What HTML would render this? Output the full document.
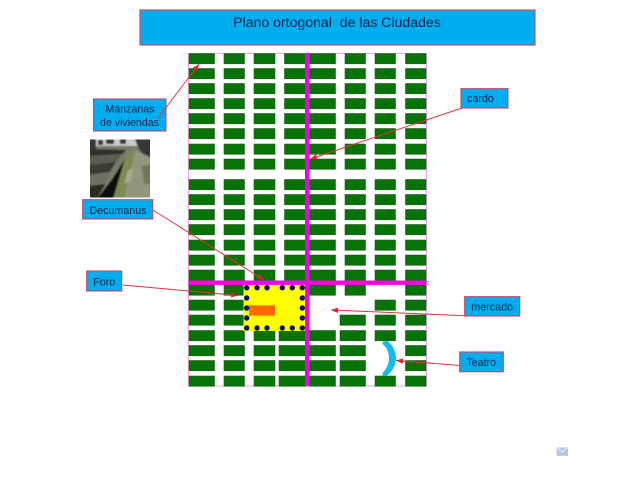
<!DOCTYPE html>
<html>
<head>
<meta charset="utf-8">
<style>
html,body{margin:0;padding:0;background:#fff;width:640px;height:480px;overflow:hidden}
svg{display:block}
text{font-family:"Liberation Sans",Arial,sans-serif;fill:#0a2550;text-anchor:middle}
.b{fill:#00aeef;stroke:#c4506c;stroke-width:1.2}
.g{fill:#067306;stroke:#2c5c2c;stroke-width:.6}
.a{fill:none;stroke:#e4343c;stroke-width:1;marker-end:url(#h)}
</style>
</head>
<body>
<svg width="640" height="480" viewBox="0 0 640 480" xmlns="http://www.w3.org/2000/svg">
<defs>
<marker id="h" markerUnits="userSpaceOnUse" markerWidth="8" markerHeight="6" refX="7" refY="3" orient="auto">
<path d="M0,0.3 L7,3 L0,5.7 z" fill="#e8202c"/>
</marker>
<filter id="bl" x="-5%" y="-5%" width="110%" height="110%"><feGaussianBlur stdDeviation="0.8"/></filter>
<clipPath id="ph"><rect x="90" y="139.5" width="60" height="58"/></clipPath>
<g id="r">
<rect class="g" x="189" y="0" width="25.5" height="10.3"/>
<rect class="g" x="224" y="0" width="20.5" height="10.3"/>
<rect class="g" x="254" y="0" width="21" height="10.3"/>
<rect class="g" x="284.5" y="0" width="21" height="10.3"/>
<rect class="g" x="309" y="0" width="26.5" height="10.3"/>
<rect class="g" x="345" y="0" width="20.5" height="10.3"/>
<rect class="g" x="375" y="0" width="20.5" height="10.3"/>
<rect class="g" x="405.5" y="0" width="20.5" height="10.3"/>
</g>
<g id="c1"><rect class="g" x="189" y="0" width="25.5" height="10.3"/><rect class="g" x="224" y="0" width="20.5" height="10.3"/></g>
<g id="c3"><rect class="g" x="254" y="0" width="21" height="10.3"/><rect class="g" x="279" y="0" width="27" height="10.3"/></g>
<g id="c5"><rect class="g" x="309" y="0" width="26.5" height="10.3"/></g>
<g id="c6"><rect class="g" x="345" y="0" width="20.5" height="10.3"/></g>
<g id="c6w"><rect class="g" x="340" y="0" width="25.5" height="10.3"/></g>
<g id="c7"><rect class="g" x="375" y="0" width="20.5" height="10.3"/></g>
<g id="c8"><rect class="g" x="405.5" y="0" width="20.5" height="10.3"/></g>
</defs>

<rect width="640" height="480" fill="#fff"/>

<!-- title -->
<rect class="b" x="140" y="10" width="395" height="35"/>
<text x="337" y="27" font-size="14.1">Plano ortogonal&#160; de las Ciudades</text>

<!-- city outline -->
<rect x="188.5" y="53.5" width="238" height="332.5" fill="none" stroke="#f6a0ee" stroke-width="1"/>

<!-- upper blocks -->
<use href="#r" y="53.5"/><use href="#r" y="68.5"/><use href="#r" y="83.5"/><use href="#r" y="98.5"/>
<use href="#r" y="113.5"/><use href="#r" y="128.5"/><use href="#r" y="144"/><use href="#r" y="159"/>
<use href="#r" y="179.5"/><use href="#r" y="194.5"/><use href="#r" y="209.5"/><use href="#r" y="224.5"/>
<use href="#r" y="240"/><use href="#r" y="255"/><use href="#r" y="270"/>

<!-- lower blocks -->
<use href="#c1" y="285"/><use href="#c5" y="285"/><use href="#c6" y="285"/><use href="#c8" y="285"/>
<use href="#c1" y="300"/><use href="#c7" y="300"/><use href="#c8" y="300"/>
<use href="#c1" y="315"/><use href="#c6w" y="315"/><use href="#c7" y="315"/><use href="#c8" y="315"/>
<use href="#c1" y="330.5"/><use href="#c3" y="330.5"/><use href="#c5" y="330.5"/><use href="#c6w" y="330.5"/><use href="#c7" y="330.5"/><use href="#c8" y="330.5"/>
<use href="#c1" y="345.5"/><use href="#c3" y="345.5"/><use href="#c5" y="345.5"/><use href="#c6w" y="345.5"/><use href="#c8" y="345.5"/>
<use href="#c1" y="360.5"/><use href="#c3" y="360.5"/><use href="#c5" y="360.5"/><use href="#c6w" y="360.5"/><use href="#c8" y="360.5"/>
<use href="#c1" y="376"/><use href="#c3" y="376"/><use href="#c5" y="376"/><use href="#c6w" y="376"/><use href="#c7" y="376"/><use href="#c8" y="376"/>

<!-- forum -->
<rect x="243.5" y="285" width="62.5" height="46" fill="#ffff00"/>
<rect x="249" y="305.3" width="26" height="10.4" fill="#ff6a00"/>

<!-- main streets -->
<rect x="305" y="53" width="4.6" height="333" fill="#f000e8"/>
<rect x="188.5" y="280.5" width="238" height="4.4" fill="#f800e8"/>

<!-- forum columns -->
<g fill="#10106e">
<circle cx="246.7" cy="287.7" r="2.7"/><circle cx="257" cy="287.7" r="2.7"/><circle cx="267" cy="287.7" r="2.7"/>
<circle cx="282.3" cy="287.7" r="2.7"/><circle cx="292.3" cy="287.7" r="2.7"/><circle cx="302.3" cy="287.7" r="2.7"/>
<circle cx="246.7" cy="298" r="2.7"/><circle cx="302.3" cy="298" r="2.7"/>
<circle cx="246.7" cy="308" r="2.7"/><circle cx="302.3" cy="308" r="2.7"/>
<circle cx="246.7" cy="318" r="2.7"/><circle cx="302.3" cy="318" r="2.7"/>
<circle cx="246.7" cy="328" r="2.7"/><circle cx="257" cy="328" r="2.7"/><circle cx="267" cy="328" r="2.7"/>
<circle cx="282.3" cy="328" r="2.7"/><circle cx="292.3" cy="328" r="2.7"/><circle cx="302.3" cy="328" r="2.7"/>
</g>

<!-- theatre -->
<path d="M382.5,342 L387,340.5 C393,345 396,352 396,358 C396,364 393,371 387,375.5 L382.5,375.5 L382.5,373 C386.5,369 389,364 389,358 C389,352 386.5,347 382.5,344 z" fill="#10bcec"/>

<!-- photo -->
<g clip-path="url(#ph)">
<rect x="90" y="139" width="60" height="59" fill="#777b6b"/>
<g filter="url(#bl)">
<rect x="88" y="137" width="64" height="9" fill="#c8cac6"/>
<path d="M88,137 h8 v12 h-8z M98,140 h5 v5 h-5z M106,139 h8 v5 h-8z M120,138 h6 v6 h-6z M134,137 h18 v22 h-6 l-8,-12z" fill="#34383a"/>
<path d="M88,149 L126,150 L122,154 L88,156z" fill="#2f322c"/>
<path d="M88,156 L122,154 L116,162 L88,165z" fill="#5a5d50"/>
<path d="M88,165 L116,162 L110,172 L88,175z" fill="#3a3c34"/>
<path d="M88,175 L110,172 L104,184 L88,186z" fill="#6d7062"/>
<path d="M127,156 L132,160 L113,199 L97,199 L112,180z" fill="#10100b"/>
<path d="M88,186 L105,184 L97,199 L88,199z" fill="#2a2a24"/>
<path d="M127,152 L135,150 L124,199 L113,199z" fill="#7d8a52"/>
<path d="M135,150 L152,158 L152,199 L124,199z" fill="#93957d"/>
<path d="M142,166 L152,164 L152,184 L144,184z" fill="#72745f"/>
<path d="M128,170 l6,-2 l-4,14 l-6,2z" fill="#a6a88c"/>
</g>
</g>

<!-- labels -->
<rect class="b" x="93.5" y="99" width="72.5" height="32"/>
<text x="130" y="112.3" font-size="10.6">Manzanas</text>
<text x="129.5" y="126" font-size="10.6">de viviendas</text>

<rect class="b" x="82.7" y="199.7" width="70" height="19.3"/>
<text x="118" y="213.8" font-size="10.7">Decumanus</text>

<rect class="b" x="86.7" y="271" width="35" height="20"/>
<text x="104.2" y="285.6" font-size="10.7">Foro</text>

<rect class="b" x="461" y="88.7" width="47" height="19.3"/>
<text x="480.5" y="102.2" font-size="10.7">cardo</text>

<rect class="b" x="464.7" y="296.7" width="55" height="19.3"/>
<text x="492.2" y="310.5" font-size="10.7">mercado</text>

<rect class="b" x="459.7" y="352" width="43.6" height="19.7"/>
<text x="481.2" y="366" font-size="10.7">Teatro</text>

<!-- connectors -->
<line class="a" x1="158" y1="118" x2="199" y2="64"/>
<line class="a" x1="462" y1="108" x2="310" y2="159"/>
<line class="a" x1="153" y1="210" x2="264" y2="280"/>
<line class="a" x1="123" y1="285" x2="238" y2="295.5"/>
<line class="a" x1="465" y1="315.7" x2="331" y2="310"/>
<line class="a" x1="460" y1="365.5" x2="396" y2="360.5"/>

<!-- mail icon -->
<rect x="556.5" y="447.5" width="11.5" height="8.3" fill="#b4c6e2"/>
<path d="M557,448 L562.2,452 L567.5,448" fill="none" stroke="#f0f4fa" stroke-width="1"/>
</svg>
</body>
</html>
